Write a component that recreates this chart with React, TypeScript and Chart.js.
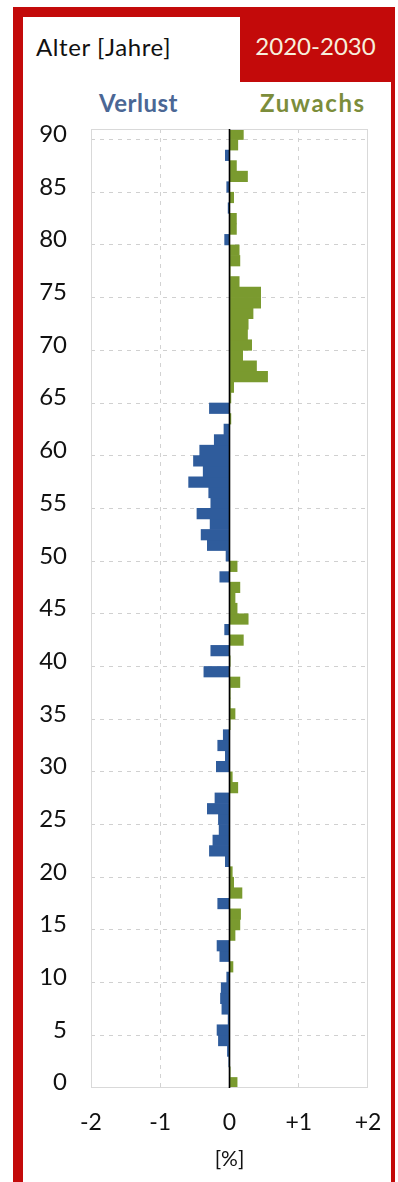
import { useEffect, useRef } from 'react';
import { Chart, registerables } from 'chart.js';

Chart.register(...registerables);

const ages = [
  0, 1, 2, 3, 4, 5, 6, 7, 8, 9, 10, 11, 12, 13, 14, 15, 16, 17, 18, 19,
  20, 21, 22, 23, 24, 25, 26, 27, 28, 29, 30, 31, 32, 33, 34, 35, 36, 37, 38, 39,
  40, 41, 42, 43, 44, 45, 46, 47, 48, 49, 50, 51, 52, 53, 54, 55, 56, 57, 58, 59,
  60, 61, 62, 63, 64, 65, 66, 67, 68, 69, 70, 71, 72, 73, 74, 75, 76, 77, 78, 79,
  80, 81, 82, 83, 84, 85, 86, 87, 88, 89, 90,
];

// change of population share per age 2020-2030, in %
const changes = [
  0.11, 0.01, -0.01, -0.03, -0.16, -0.18, -0.02, -0.11, -0.13, -0.12,
  -0.04, 0.05, -0.14, -0.18, 0.08, 0.15, 0.16, -0.17, 0.18, 0.06,
  0.04, -0.06, -0.29, -0.24, -0.15, -0.16, -0.32, -0.21, 0.12, 0.04,
  -0.19, -0.06, -0.17, -0.09, 0.01, 0.08, 0.01, 0.01, 0.15, -0.37,
  0.01, -0.27, 0.2, -0.07, 0.27, 0.11, 0.08, 0.15, -0.14, 0.11,
  -0.05, -0.32, -0.41, -0.28, -0.47, -0.27, -0.3, -0.59, -0.38, -0.52,
  -0.43, -0.22, -0.08, 0.02, -0.29, 0.02, 0.06, 0.55, 0.39, 0.19,
  0.32, 0.26, 0.27, 0.34, 0.45, 0.45, 0.14, 0.01, 0.15, 0.14,
  -0.07, 0.1, 0.1, -0.02, 0.06, -0.04, 0.26, 0.1, -0.06, 0.12,
  0.2,
];

const xTicks = [-2, -1, 0, 1, 2];

const FONT = "Lato, 'Open Sans', 'DejaVu Sans', sans-serif";
const BLUE = '#2f5c9c';
const GREEN = '#7a9a2f';
const RED = '#c30a0a';

export default function App() {
  const ref = useRef<HTMLCanvasElement>(null);

  useEffect(() => {
    if (!ref.current) return;
    const framePlugin = {
      id: 'framePlugin',
      afterDatasetsDraw(chart: any) {
        const { ctx, chartArea: a, scales } = chart;
        ctx.save();
        ctx.strokeStyle = '#d9d9d9';
        ctx.lineWidth = 1;
        ctx.strokeRect(a.left + 0.5, a.top + 0.5, a.right - a.left - 1, a.bottom - a.top - 1);
        const x0 = scales.x.getPixelForValue(0);
        ctx.strokeStyle = '#000000';
        ctx.lineWidth = 1.6;
        ctx.beginPath();
        ctx.moveTo(x0, a.top);
        ctx.lineTo(x0, a.bottom);
        ctx.stroke();
        ctx.restore();
      },
    };

    const chart = new Chart(ref.current, {
      type: 'bar',
      data: {
        labels: ages.map(String),
        datasets: [
          {
            data: changes,
            backgroundColor: changes.map((v) => (v < 0 ? BLUE : GREEN)),
            borderWidth: 0,
            barPercentage: 1,
            categoryPercentage: 1,
          },
        ],
      },
      options: {
        indexAxis: 'y',
        animation: false,
        responsive: false,
        devicePixelRatio: 1,
        layout: { padding: { left: 0, right: 23, top: 12, bottom: 0 } },
        plugins: { legend: { display: false }, tooltip: { enabled: false } },
        scales: {
          x: {
            type: 'linear',
            min: xTicks[0],
            max: xTicks[xTicks.length - 1],
            afterBuildTicks: (s: any) => {
              s.ticks = xTicks.map((v) => ({ value: v }));
            },
            ticks: {
              callback: (v: any) => (Number(v) > 0 ? '+' + v : String(v)),
              font: { family: FONT, size: 23 },
              color: '#111111',
              padding: 21,
            },
            grid: {
              drawTicks: false,
              color: (ctx: any) =>
                ctx.tick && Math.abs(ctx.tick.value) === 1 ? '#d2d2d2' : 'rgba(0,0,0,0)',
              lineWidth: 1,
            },
            border: { display: false, dash: [4, 5] },
            title: {
              display: true,
              text: '[%]',
              font: { family: FONT, size: 21 },
              color: '#111111',
              padding: { top: 0, bottom: 10 },
            },
            afterFit: (s: any) => {
              s.height = 94;
              s.paddingLeft = 0;
              s.paddingRight = 0;
            },
          },
          y: {
            type: 'category',
            reverse: true,
            offset: true,
            ticks: {
              autoSkip: false,
              callback: (_v: any, i: number) => (ages[i] % 5 === 0 ? String(ages[i]) : ''),
              font: { family: FONT, size: 24 },
              color: '#111111',
              padding: 24,
            },
            grid: {
              drawTicks: false,
              offset: true,
              color: (ctx: any) =>
                ctx.tick && ages[ctx.index] % 5 === 0 && ages[ctx.index] !== 0
                  ? '#d0d0d0'
                  : 'rgba(0,0,0,0)',
              lineWidth: 1,
            },
            border: { display: false, dash: [4, 5] },
            afterFit: (s: any) => {
              s.width = 68;
              s.paddingTop = 0;
              s.paddingBottom = 0;
            },
          },
        },
      },
      plugins: [framePlugin],
    } as any);
    return () => chart.destroy();
  }, []);

  return (
    <div
      style={{
        position: 'absolute',
        left: 0,
        top: 0,
        width: 398,
        height: 1182,
        background: '#ffffff',
        overflow: 'hidden',
        fontFamily: FONT,
      }}
    >
      <div
        style={{
          position: 'absolute',
          left: 13,
          top: 7,
          width: 368,
          height: 1200,
          borderLeft: `10px solid ${RED}`,
          borderTop: `10px solid ${RED}`,
          borderRight: `4px solid ${RED}`,
        }}
      />
      <div
        style={{
          position: 'absolute',
          left: 240,
          top: 17,
          width: 151,
          height: 65,
          background: RED,
        }}
      />
      <div
        style={{
          position: 'absolute',
          left: 240,
          top: 34,
          width: 151,
          textAlign: 'center',
          fontSize: 24,
          lineHeight: '24px',
          color: '#f7efdc',
          whiteSpace: 'nowrap',
        }}
      >
        2020-2030
      </div>
      <div
        style={{
          position: 'absolute',
          left: 36,
          top: 35,
          fontSize: 24,
          lineHeight: '24px',
          letterSpacing: '0.6px',
          color: '#111111',
          whiteSpace: 'nowrap',
        }}
      >
        Alter [Jahre]
      </div>
      <div
        style={{
          position: 'absolute',
          left: 99,
          top: 91,
          fontSize: 24,
          lineHeight: '24px',
          letterSpacing: '0.5px',
          fontWeight: 700,
          color: '#4b6795',
          whiteSpace: 'nowrap',
        }}
      >
        Verlust
      </div>
      <div
        style={{
          position: 'absolute',
          left: 260,
          top: 91,
          fontSize: 24,
          lineHeight: '24px',
          letterSpacing: '1.6px',
          fontWeight: 700,
          color: '#7c8d3b',
          whiteSpace: 'nowrap',
        }}
      >
        Zuwachs
      </div>
      <div style={{ position: 'absolute', left: 23, top: 117, width: 368, height: 1065 }}>
        <canvas ref={ref} width={368} height={1065} style={{ width: 368, height: 1065 }} />
      </div>
    </div>
  );
}
